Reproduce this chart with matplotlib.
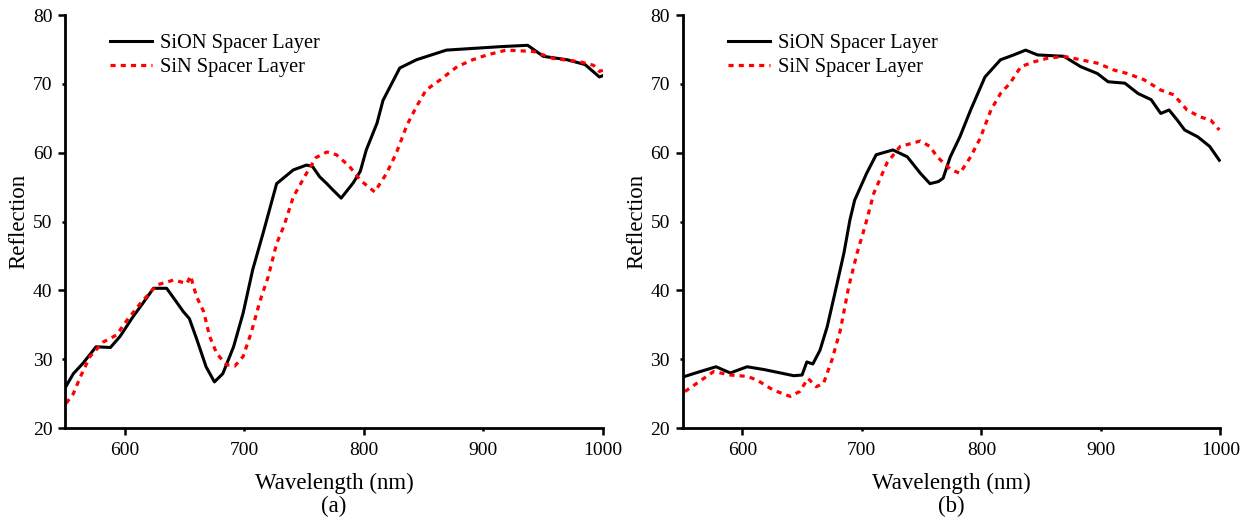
import numpy as np
import matplotlib
matplotlib.use("Agg")
import matplotlib.pyplot as plt
from matplotlib.ticker import FixedLocator, FixedFormatter

plt.rcParams['font.family'] = ['Liberation Serif', 'DejaVu Serif']

# panel (a)
a_sion_wl = [550, 557, 565, 576, 588, 596, 607, 615, 624, 635, 640, 649, 654, 660, 668, 675,
             682, 691, 699, 707, 716, 727, 741, 752, 757, 763, 769, 774, 781, 791, 797, 802,
             811, 816, 830, 844, 869, 914, 937, 950, 970, 985, 997, 1000]
a_sion_r = [25.8, 27.9, 29.4, 31.8, 31.7, 33.3, 36.2, 38.1, 40.3, 40.3, 39.1, 36.9, 35.9, 33.0,
            28.9, 26.7, 27.9, 31.8, 36.7, 43.0, 48.5, 55.5, 57.5, 58.2, 58.0, 56.5, 55.5, 54.6,
            53.4, 55.6, 57.3, 60.4, 64.3, 67.6, 72.3, 73.5, 74.9, 75.4, 75.6, 74.0, 73.5, 72.8,
            71.0, 71.2]
a_sin_wl = [551, 557, 563, 571, 582, 593, 602, 613, 627, 641, 652, 655, 660, 666, 671, 677,
            685, 692, 699, 706, 713, 720, 727, 733, 741, 752, 760, 769, 777, 788, 797, 809,
            819, 827, 836, 844, 852, 864, 878, 891, 903, 919, 942, 958, 981, 992, 997, 1000]
a_sin_r = [23.6, 25.0, 27.5, 30.4, 32.5, 33.5, 35.7, 38.1, 40.8, 41.5, 41.0, 42.1, 39.1, 36.9,
           33.3, 30.8, 29.2, 29.0, 30.4, 34.0, 38.4, 42.0, 46.8, 49.3, 53.6, 57.0, 59.3, 60.1,
           59.7, 58.0, 56.0, 54.3, 57.0, 59.9, 64.0, 66.7, 69.1, 70.6, 72.5, 73.5, 74.2, 74.9,
           74.7, 73.7, 73.2, 72.7, 71.8, 72.0]

# panel (b)
b_sion_wl = [552, 561, 578, 590, 604, 618, 632, 643, 650, 654, 659, 665, 671, 678, 685, 690,
             694, 704, 712, 726, 738, 749, 757, 764, 768, 774, 782, 791, 799, 803, 816, 827,
             837, 847, 869, 883, 897, 906, 920, 931, 942, 950, 957, 964, 970, 981, 991, 999]
b_sion_r = [27.5, 28.0, 28.9, 28.0, 28.9, 28.5, 28.0, 27.6, 27.7, 29.6, 29.3, 31.3, 34.7, 40.0,
            45.4, 50.2, 53.1, 57.0, 59.7, 60.4, 59.4, 57.0, 55.5, 55.8, 56.3, 59.4, 62.3, 66.2,
            69.4, 71.0, 73.5, 74.2, 74.9, 74.2, 74.0, 72.5, 71.5, 70.3, 70.1, 68.6, 67.7, 65.7,
            66.2, 64.7, 63.3, 62.3, 60.9, 58.9]
b_sin_wl = [552, 562, 576, 590, 604, 612, 626, 640, 648, 655, 662, 668, 675, 682, 689, 696,
            703, 710, 721, 732, 749, 757, 763, 774, 782, 791, 799, 808, 816, 824, 833, 844,
            855, 869, 883, 897, 911, 922, 936, 950, 961, 972, 983, 992, 999]
b_sin_r = [25.3, 26.5, 28.2, 27.7, 27.5, 27.0, 25.5, 24.6, 25.3, 27.2, 26.0, 26.5, 29.9, 34.2,
           40.5, 45.4, 49.5, 54.1, 58.5, 60.9, 61.7, 60.9, 59.4, 57.6, 57.0, 59.4, 62.1, 66.2,
           68.6, 70.1, 72.5, 73.2, 73.7, 74.0, 73.5, 73.0, 72.0, 71.5, 70.6, 69.1, 68.4, 66.2,
           65.2, 64.7, 63.3]

panels = [
    (a_sion_wl, a_sion_r, a_sin_wl, a_sin_r, "(a)"),
    (b_sion_wl, b_sion_r, b_sin_wl, b_sin_r, "(b)"),
]

fig = plt.figure(figsize=(12.5, 5.23), dpi=100)
lefts = [0.052, 0.546]

for left, (w1, r1, w2, r2, tag) in zip(lefts, panels):
    ax = fig.add_axes([left, 0.1816, 0.4304, 0.7897])
    ax.plot(w1, r1, color='black', lw=2.2, label='SiON Spacer Layer')
    ax.plot(w2, r2, color='red', lw=2.3, linestyle=(0, (1.6, 1.6)), label='SiN Spacer Layer')
    ax.set_xlim(550, 1000)
    ax.set_ylim(20, 80)
    for s in ['top', 'right']:
        ax.spines[s].set_visible(False)
    for s in ['left', 'bottom']:
        ax.spines[s].set_linewidth(2.0)
    ax.xaxis.set_major_locator(FixedLocator([600, 800, 1000]))
    ax.xaxis.set_minor_locator(FixedLocator([700, 900]))
    ax.xaxis.set_minor_formatter(FixedFormatter(['700', '900']))
    ax.yaxis.set_major_locator(FixedLocator([20, 40, 60, 80]))
    ax.yaxis.set_minor_locator(FixedLocator([30, 50, 70]))
    ax.yaxis.set_minor_formatter(FixedFormatter(['30', '50', '70']))
    ax.tick_params(which='major', direction='out', length=5, width=1.8, labelsize=14)
    ax.tick_params(which='minor', direction='out', length=2.5, width=1.8, labelsize=14)
    ax.tick_params(axis='x', which='major', pad=5)
    ax.tick_params(axis='x', which='minor', pad=7.5)
    ax.tick_params(axis='y', which='major', pad=4)
    ax.tick_params(axis='y', which='minor', pad=6.5)
    ax.set_xlabel('Wavelength (nm)', fontsize=16.5, va='center')
    ax.xaxis.set_label_coords(0.5, -0.133)
    ax.set_ylabel('Reflection', fontsize=16.5, va='center')
    ax.yaxis.set_label_coords(-0.085, 0.5)
    ax.text(0.5, -0.191, tag, transform=ax.transAxes, ha='center', va='center', fontsize=16.5)
    ax.legend(loc='upper left', bbox_to_anchor=(0.084, 0.955), frameon=False, fontsize=14.7,
              handlelength=2.05, handletextpad=0.4, labelspacing=0.22, borderaxespad=0,
              borderpad=0)

fig.savefig('out.png', dpi=100)
